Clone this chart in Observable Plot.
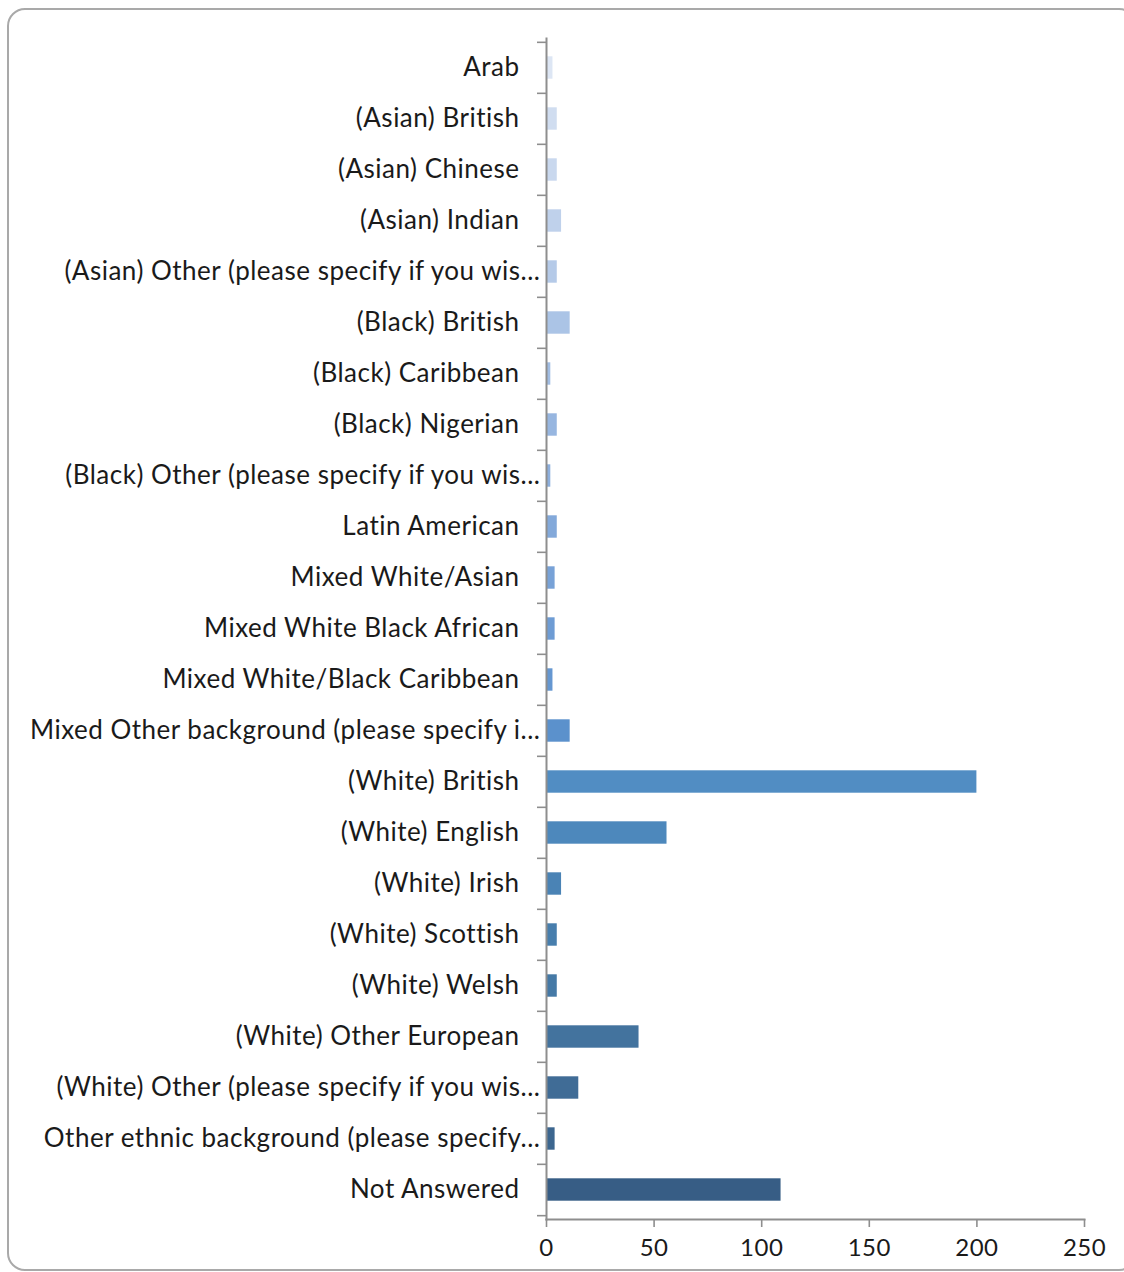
<!DOCTYPE html>
<html>
<head>
<meta charset="utf-8">
<script src="https://cdn.jsdelivr.net/npm/d3@7"></script>
<script src="https://cdn.jsdelivr.net/npm/@observablehq/plot@0.6"></script>
<style>
  html, body { margin: 0; padding: 0; background: #ffffff; width: 1124px; height: 1272px; overflow: hidden; }
  #frame { position: absolute; left: 7px; top: 8px; width: 1130px; height: 1263px; border: 2px solid #a9a9a9; border-radius: 18px; box-sizing: border-box; }
  #chart { position: absolute; left: 0; top: 0; }
  #chart svg text { letter-spacing: 0.5px; }
</style>
</head>
<body>
<div id="frame"></div>
<div id="chart"></div>
<script>
const categories = [
  "Arab",
  "(Asian) British",
  "(Asian) Chinese",
  "(Asian) Indian",
  "(Asian) Other (please specify if you wis...",
  "(Black) British",
  "(Black) Caribbean",
  "(Black) Nigerian",
  "(Black) Other (please specify if you wis...",
  "Latin American",
  "Mixed White/Asian",
  "Mixed White Black African",
  "Mixed White/Black Caribbean",
  "Mixed Other background (please specify i...",
  "(White) British",
  "(White) English",
  "(White) Irish",
  "(White) Scottish",
  "(White) Welsh",
  "(White) Other European",
  "(White) Other (please specify if you wis...",
  "Other ethnic background (please specify...",
  "Not Answered"
];
const counts = [3, 5, 5, 7, 5, 11, 2, 5, 2, 5, 4, 4, 3, 11, 200, 56, 7, 5, 5, 43, 15, 4, 109];
const barColors = [
  "#dde6f4", "#d0ddf0", "#c9d8ee", "#bfd1eb", "#b5cae8", "#abc4e6",
  "#a1bde3", "#97b6e0", "#8dafdd", "#83a9da", "#78a2d7", "#6e9cd4",
  "#6597d1", "#5b91cc", "#518dc3", "#4d88bc", "#4a83b5", "#477ead",
  "#4579a6", "#43739e", "#406c96", "#3c668f", "#375d85"
];
const xTicks = [0, 50, 100, 150, 200, 250];

const data = categories.map((c, i) => ({ category: c, count: counts[i], color: barColors[i] }));
const fullLabels = categories.filter(c => !c.endsWith("..."));
const truncLabels = categories.filter(c => c.endsWith("..."));

const W = 1124, H = 1272, mt = 38, mb = 53, ml = 546, mr = 40;
const bw = (H - mt - mb) / categories.length;
const axisGray = "#8e8e8e";

const chart = Plot.plot({
  width: W,
  height: H,
  marginLeft: ml,
  marginRight: mr,
  marginTop: mt,
  marginBottom: mb,
  style: { fontFamily: "Lato, 'Open Sans', sans-serif", fontSize: "26px", color: "#1a1a1a", background: "transparent", overflow: "visible" },
  x: { domain: [0, 250], axis: null },
  y: { domain: categories, padding: 0, axis: null },
  color: { type: "identity" },
  marks: [
    Plot.barX(data, { x: "count", y: "category", fill: "color", insetTop: 14.3, insetBottom: 14.3 }),
    Plot.axisY({ ticks: categories, tickSize: 9, tickFormat: () => "", label: null, dy: -bw / 2, stroke: axisGray, strokeWidth: 1.6 }),
    Plot.axisY({ ticks: [categories[categories.length - 1]], tickSize: 9, tickFormat: () => "", label: null, dy: bw / 2, stroke: axisGray, strokeWidth: 1.6 }),
    Plot.axisY({ ticks: fullLabels, tickSize: 0, tickPadding: 27, label: null, fill: "#1a1a1a", fontSize: 26 }),
    Plot.axisY({ ticks: truncLabels, tickSize: 0, tickPadding: 6, label: null, fill: "#1a1a1a", fontSize: 26 }),
    Plot.axisX({ ticks: xTicks, tickSize: 8, tickPadding: 11, stroke: axisGray, strokeWidth: 1.6, fill: "#1a1a1a", fontSize: 24, label: null }),
    Plot.frame({ anchor: "left", stroke: axisGray, strokeWidth: 2 }),
    Plot.frame({ anchor: "bottom", stroke: axisGray, strokeWidth: 2 })
  ]
});
document.getElementById("chart").appendChild(chart);
</script>
</body>
</html>
